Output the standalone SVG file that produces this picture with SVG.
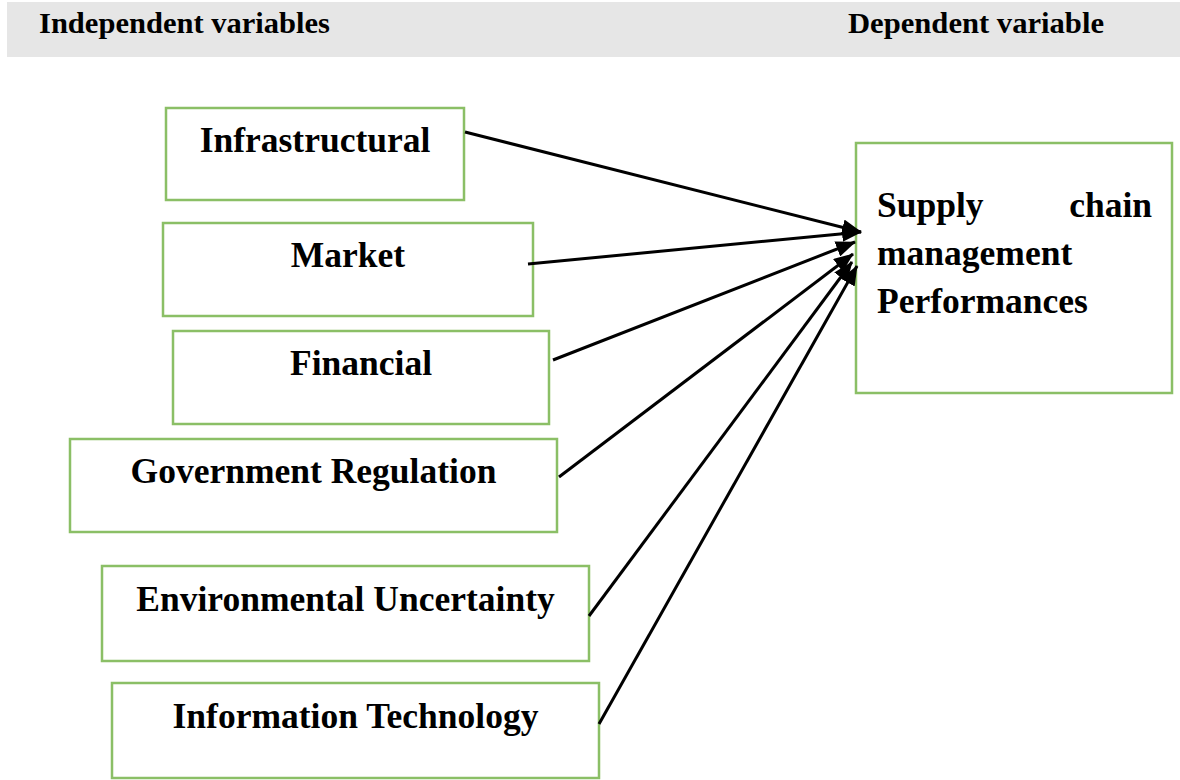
<svg xmlns="http://www.w3.org/2000/svg" width="1180" height="780" viewBox="0 0 1180 780">
  <style>
    .band { fill: #e6e6e6; }
    .hdr { font-family: "Liberation Serif", "Times New Roman", serif; font-weight: bold; font-size: 30px; fill: #000; }
    .box { fill: #fff; stroke: #8bbf66; stroke-width: 2.5; }
    .lbl { font-family: "Liberation Serif", "Times New Roman", serif; font-weight: bold; font-size: 35.5px; fill: #000; text-anchor: middle; }
    .lbl-l { font-family: "Liberation Serif", "Times New Roman", serif; font-weight: bold; font-size: 35.5px; fill: #000; }
    .conn { stroke: #000; stroke-width: 3; fill: none; marker-end: url(#head); }
  </style>
  <defs>
    <marker id="head" markerUnits="userSpaceOnUse" markerWidth="20" markerHeight="16" refX="19" refY="8" orient="auto">
      <path d="M0,0 L20,8 L0,16 z" fill="#000"/>
    </marker>
  </defs>

  <rect width="1180" height="780" fill="#fff"/>

  <!-- header band -->
  <g id="header">
    <rect class="band" x="7" y="2" width="1173" height="55"/>
    <text class="hdr" x="39" y="33" textLength="291" lengthAdjust="spacingAndGlyphs">Independent variables</text>
    <text class="hdr" x="848" y="33" textLength="256" lengthAdjust="spacingAndGlyphs">Dependent variable</text>
  </g>

  <!-- independent variables -->
  <g id="infrastructural">
    <rect class="box" x="166" y="108" width="298" height="92"/>
    <text class="lbl" x="315" y="152">Infrastructural</text>
  </g>
  <g id="market">
    <rect class="box" x="163" y="223" width="370" height="93"/>
    <text class="lbl" x="348" y="267">Market</text>
  </g>
  <g id="financial">
    <rect class="box" x="173" y="331" width="376" height="93"/>
    <text class="lbl" x="361" y="375">Financial</text>
  </g>
  <g id="government-regulation">
    <rect class="box" x="70" y="439" width="487" height="93"/>
    <text class="lbl" x="313.5" y="483">Government Regulation</text>
  </g>
  <g id="environmental-uncertainty">
    <rect class="box" x="102" y="566" width="487" height="95"/>
    <text class="lbl" x="345.5" y="611">Environmental Uncertainty</text>
  </g>
  <g id="information-technology">
    <rect class="box" x="112" y="683" width="487" height="95"/>
    <text class="lbl" x="355.5" y="728">Information Technology</text>
  </g>

  <!-- dependent variable -->
  <g id="scm-performances">
    <rect class="box" x="856" y="143" width="316" height="250"/>
    <text class="lbl-l" x="877" y="217">Supply</text>
    <text class="lbl-l" x="1152" y="217" text-anchor="end">chain</text>
    <text class="lbl-l" x="877" y="265">management</text>
    <text class="lbl-l" x="877" y="313">Performances</text>
  </g>

  <!-- connectors -->
  <g id="connectors">
    <path class="conn" d="M465,132 L861,232"/>
    <path class="conn" d="M528,264 L861,232"/>
    <path class="conn" d="M553,360 L855,242"/>
    <path class="conn" d="M559,477 L853,254"/>
    <path class="conn" d="M589,616 L852,262"/>
    <path class="conn" d="M599,724 L857,266"/>
  </g>
</svg>
